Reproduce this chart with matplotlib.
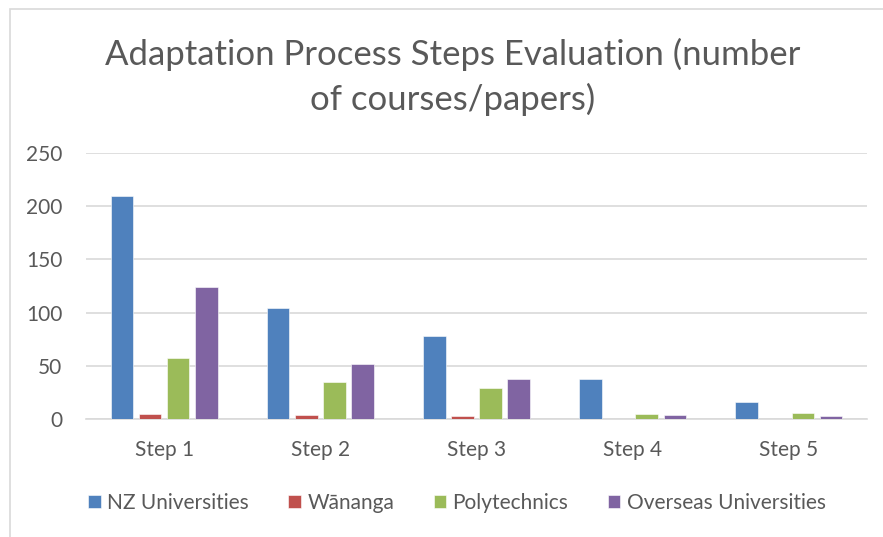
import matplotlib
matplotlib.use('Agg')
import matplotlib.pyplot as plt
from matplotlib.patches import Rectangle
import numpy as np

plt.rcParams['font.family'] = ['Lato', 'DejaVu Sans']

steps = ['Step 1', 'Step 2', 'Step 3', 'Step 4', 'Step 5']
series = ['NZ Universities', 'Wānanga', 'Polytechnics', 'Overseas Universities']
nz_uni = [210, 104, 78, 38, 16]
wananga = [5, 4, 3, 0, 0]
polytech = [57, 35, 29, 5, 6]
overseas = [124, 52, 38, 4, 3]
values = [nz_uni, wananga, polytech, overseas]
colors = ['#4F81BD', '#C0504D', '#9BBB59', '#8064A2']
text_col = '#595959'

fig = plt.figure(figsize=(8.83, 5.37), dpi=100)
# outer chart border
fig.patches.append(Rectangle((10 / 883, -0.01), 1.1, (537 - 9) / 537 + 0.01,
                             transform=fig.transFigure, fill=False,
                             edgecolor='#D9D9D9', linewidth=1.2))

ax = fig.add_axes([86 / 883, (537 - 419) / 537, (867 - 86) / 883, (419 - 153) / 537])
x = np.arange(len(steps))
step = 0.18
width = 0.145
for i, (name, vals) in enumerate(zip(series, values)):
    ax.bar(x + (i - 1.5) * step, vals, width, color=colors[i], label=name,
           edgecolor='white', linewidth=0.4, zorder=3)

ax.set_xlim(-0.5, len(steps) - 0.5)
ax.set_ylim(0, 250)
ax.set_yticks(range(0, 251, 50))
ax.yaxis.grid(True, color='#D9D9D9', linewidth=1.2, zorder=0)
ax.set_xticks(x)
ax.set_xticklabels(steps)
ax.tick_params(axis='both', length=0, labelsize=15, colors=text_col)
ax.tick_params(axis='x', pad=15)
ax.tick_params(axis='y', pad=17)
for s in ['top', 'right', 'left']:
    ax.spines[s].set_visible(False)
ax.spines['bottom'].set_color('#D9D9D9')
ax.spines['bottom'].set_linewidth(1.2)

fig.text(453 / 883, 1 - 77 / 537, 'Adaptation Process Steps Evaluation (number\nof courses/papers)',
         ha='center', va='center', fontsize=25, color=text_col, linespacing=1.45)

leg = fig.legend(loc='center', bbox_to_anchor=(457 / 883, 1 - 503 / 537), ncol=4,
                 frameon=False, fontsize=15, handlelength=0.6, handleheight=0.6,
                 handletextpad=0.3, columnspacing=1.9)
for t in leg.get_texts():
    t.set_color(text_col)

fig.savefig('out.png', dpi=100)
